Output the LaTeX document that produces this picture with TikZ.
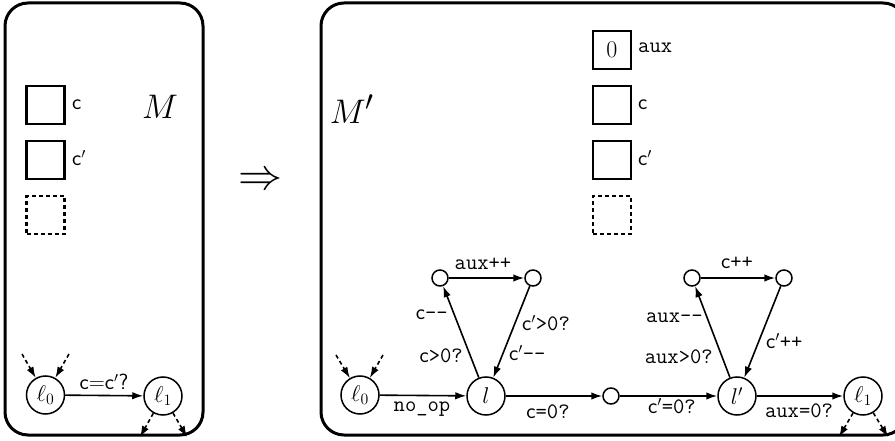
\documentclass[tikz,border=0pt]{standalone}
\usepackage{graphicx}
\usetikzlibrary{arrows.meta}
\newcommand\myc{\textsf{c}}
\newcommand\mycp{\textsf{c}$'$}
\newcommand\bigmath[2]{\scalebox{#1}{\fontsize{24.88}{30}\selectfont$#2$}}
\newcommand\stmath[1]{\scalebox{1.1}{\fontsize{20.74}{25}\selectfont$#1$}}
\begin{document}
\begin{tikzpicture}[x=1pt,y=-1pt,
  box/.style={draw, line width=3pt, rounded corners=23pt},
  reg/.style={draw, line width=2.7pt, minimum size=38pt, inner sep=0pt, font=\fontsize{24}{28}\selectfont},
  dreg/.style={reg, dash pattern=on 4pt off 3pt},
  st/.style={circle, draw, line width=1.5pt, minimum size=38pt, inner sep=0pt},
  sm/.style={circle, draw, line width=1.5pt, minimum size=16pt, inner sep=0pt},
  tr/.style={-{Latex[length=11pt,width=7.5pt]}, line width=1.6pt},
  dtr/.style={tr, dash pattern=on 4pt off 3pt},
  lab/.style={inner sep=0pt, font=\fontsize{22}{26}\selectfont},
  bigm/.style={inner sep=0pt}]
\useasboundingbox (0,0) rectangle (895,441);
\clip (0,0) rectangle (895,441);

% ---------- left machine ----------
\draw[box] (5,3) rectangle (203,435);
\node[reg] (lr1) at (45.5,105) {};
\node[reg] (lr2) at (45.5,160) {};
\node[dreg] (lr3) at (45.5,215) {};
\node[lab, anchor=west] (llc) at (72,105) {\myc};
\node[lab, anchor=west] (llcp) at (72,158) {\mycp};
\node[bigm] (lM) at (160,107) {\bigmath{1.37}{M}};

\node[st] (l0) at (45.5,395) {\stmath{\ell_0}};
\node[st] (l1) at (163,396) {\stmath{\ell_1}};
\draw[tr] (l0) -- (l1);
\node[lab] (lab01) at (104,382) {\textsf{c=c}$'$\textsf{?}};
\coordinate (lin1) at (22,354);
\coordinate (lin2) at (69,354);
\coordinate (lout1) at (140,437);
\coordinate (lout2) at (187,437);
\draw[dtr] (lin1) -- (l0);
\draw[dtr] (lin2) -- (l0);
\draw[dtr] (l1) -- (lout1);
\draw[dtr] (l1) -- (lout2);

% ---------- implication ----------
\node[bigm] (impl) at (261,181) {\bigmath{1.77}{\Rightarrow}};

% ---------- right machine ----------
\draw[box] (321,3) rectangle (906,435);
\node[reg] (rr0) at (612,50) {0};
\node[reg] (rr1) at (612,105) {};
\node[reg] (rr2) at (612,160) {};
\node[dreg] (rr3) at (612,215) {};
\node[lab, anchor=west] (rlaux) at (638,48) {\texttt{aux}};
\node[lab, anchor=west] (rlc) at (638,105) {\myc};
\node[lab, anchor=west] (rlcp) at (638,158) {\mycp};
\node[bigm] (rM) at (352,109) {\bigmath{1.37}{M'}};

\node[st] (r0) at (360,395) {\stmath{\ell_0}};
\node[st] (l) at (486,396) {\stmath{l}};
\node[sm] (a1) at (440,278) {};
\node[sm] (a2) at (533,278) {};
\node[sm] (mid) at (611,396) {};
\node[st] (lp) at (737,396) {\stmath{l'}};
\node[sm] (b1) at (692,278) {};
\node[sm] (b2) at (784,278) {};
\node[st] (r1) at (863,396) {\stmath{\ell_1}};

\coordinate (rin1) at (336,355);
\coordinate (rin2) at (383,355);
\coordinate (rout1) at (839,437);
\coordinate (rout2) at (888,437);
\draw[dtr] (rin1) -- (r0);
\draw[dtr] (rin2) -- (r0);
\draw[dtr] (r1) -- (rout1);
\draw[dtr] (r1) -- (rout2);

\draw[tr] (r0) -- (l);
\draw[tr] (l) -- (a1);
\draw[tr] (a1) -- (a2);
\draw[tr] (a2) -- (l);
\draw[tr] (l) -- (mid);
\draw[tr] (mid) -- (lp);
\draw[tr] (lp) -- (b1);
\draw[tr] (b1) -- (b2);
\draw[tr] (b2) -- (lp);
\draw[tr] (lp) -- (r1);

\node[lab] (tnoop) at (422,409) {\texttt{no\_op}};
\node[lab] (tauxpp) at (483,264) {\texttt{aux++}};
\node[lab, anchor=east] (tcmm) at (448,315) {\myc\texttt{-{}-}};
\node[lab, anchor=east] (tcg) at (463,356) {\myc\texttt{>0?}};
\node[lab, anchor=west] (tcpg) at (522,323) {\mycp\texttt{>0?}};
\node[lab, anchor=west] (tcpmm) at (509,353) {\mycp\texttt{-{}-}};
\node[lab] (tceq) at (548,412) {\myc\texttt{=0?}};
\node[lab] (tcpeq) at (672,406) {\mycp\texttt{=0?}};
\node[lab] (tcpp) at (737,263) {\myc\texttt{++}};
\node[lab, anchor=east] (tauxmm) at (703,318) {\texttt{aux-{}-}};
\node[lab, anchor=east] (tauxg) at (713,357) {\texttt{aux>0?}};
\node[lab, anchor=west] (tcppp) at (766,341) {\mycp\texttt{++}};
\node[lab] (tauxeq) at (799,411) {\texttt{aux=0?}};
\end{tikzpicture}
\end{document}
